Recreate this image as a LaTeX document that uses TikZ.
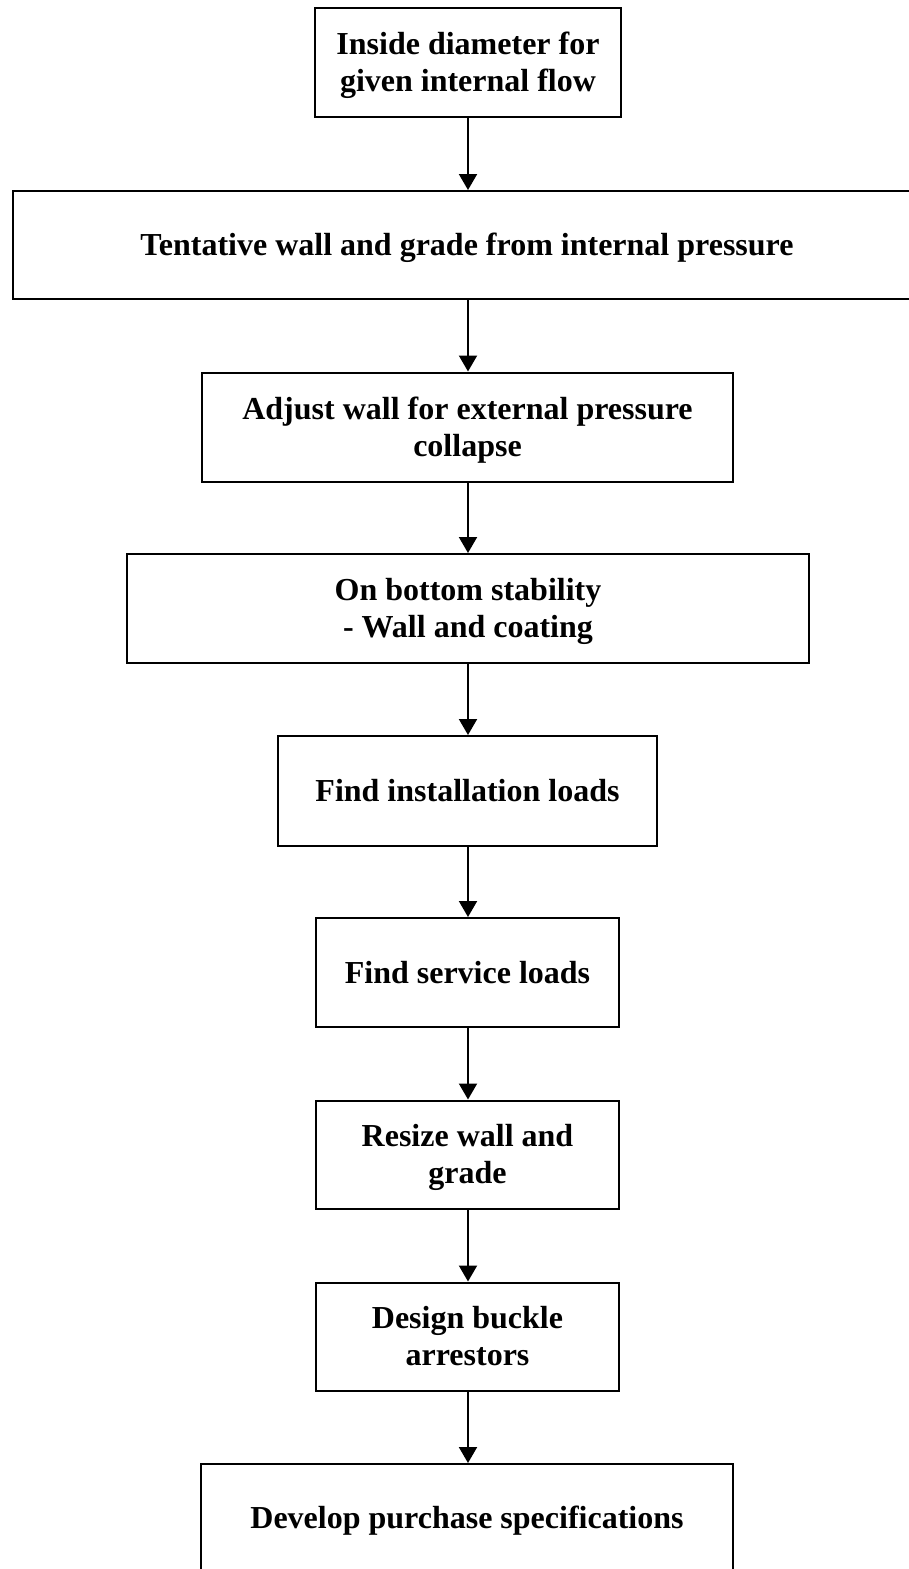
\documentclass[tikz,border=0pt]{standalone}
\usepackage{fontspec}
\setmainfont{Liberation Serif}
\usetikzlibrary{arrows.meta}
\newcommand{\lnstrut}{\rule[-6.9pt]{0pt}{35.4pt}}
\tikzset{
  box/.style={draw=black, line width=2pt, fill=white, align=center, inner sep=0pt,
    font=\fontsize{32}{37}\selectfont\bfseries},
  flow/.style={line width=2pt, -{Triangle[length=16pt,width=18pt]}}
}
\begin{document}
\begin{tikzpicture}[x=1pt,y=-1pt]
\useasboundingbox (0,0) rectangle (909,1569);
\node[box, minimum width=306pt, minimum height=109pt] (b1) at (468,62.5) {\lnstrut Inside diameter for\\given internal flow\lnstrut};
\node[box, minimum width=908pt, minimum height=108pt] (b2) at (467,245) {\lnstrut Tentative wall and grade from internal pressure};
\node[box, minimum width=531pt, minimum height=109pt] (b3) at (467.5,427) {\lnstrut Adjust wall for external pressure\\collapse\lnstrut};
\node[box, minimum width=682pt, minimum height=109pt] (b4) at (468,608.5) {\lnstrut On bottom stability\\- Wall and coating\lnstrut};
\node[box, minimum width=379pt, minimum height=110pt] (b5) at (467.5,791) {\lnstrut Find installation loads};
\node[box, minimum width=303pt, minimum height=109pt] (b6) at (467.5,972.5) {\lnstrut Find service loads};
\node[box, minimum width=303pt, minimum height=108pt] (b7) at (467.5,1154.5) {\lnstrut Resize wall and\\grade\lnstrut};
\node[box, minimum width=303pt, minimum height=108pt] (b8) at (467.5,1336.5) {\lnstrut Design buckle\\arrestors\lnstrut};
\node[box, minimum width=532pt, minimum height=108pt] (b9) at (467,1518) {\lnstrut Develop purchase specifications};
\draw[flow] (b1.south -| 468,0) -- (b2.north -| 468,0);
\draw[flow] (b2.south -| 468,0) -- (b3.north -| 468,0);
\draw[flow] (b3.south -| 468,0) -- (b4.north -| 468,0);
\draw[flow] (b4.south -| 468,0) -- (b5.north -| 468,0);
\draw[flow] (b5.south -| 468,0) -- (b6.north -| 468,0);
\draw[flow] (b6.south -| 468,0) -- (b7.north -| 468,0);
\draw[flow] (b7.south -| 468,0) -- (b8.north -| 468,0);
\draw[flow] (b8.south -| 468,0) -- (b9.north -| 468,0);
\end{tikzpicture}
\end{document}
